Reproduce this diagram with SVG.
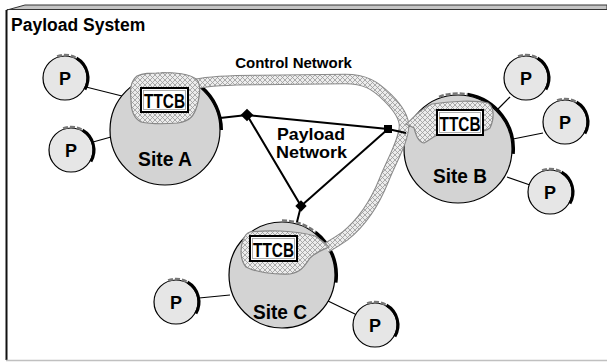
<svg xmlns="http://www.w3.org/2000/svg" width="607" height="362" viewBox="0 0 607 362">
<style>
text{font-family:"Liberation Sans",Arial,sans-serif;font-weight:bold;fill:#000}
.site{fill:#d3d3d3;stroke:#000;stroke-width:1.2}
.p{fill:#e6e6e6;stroke:#000;stroke-width:1.2}
.sh{fill:none;stroke:#000;stroke-width:3}
.gd{fill:none;stroke:#777;stroke-width:2.5;stroke-dasharray:5 2}
.wire{stroke:#000;stroke-width:1.2;fill:none}
.pn{stroke:#000;stroke-width:2;fill:none}
.blob{fill:url(#hatch);stroke:#888;stroke-width:1.2}
.box{fill:#fff;stroke:#000;stroke-width:2}
.boxin{fill:none;stroke:#999;stroke-width:0.8}
.ptxt{font-size:18px;text-anchor:middle}
.stxt{font-size:21px;text-anchor:middle}
.ttcb{font-size:20px;text-anchor:middle}
</style>
<defs>
<pattern id="hatch" patternUnits="userSpaceOnUse" width="5" height="5">
<rect width="5" height="5" fill="#ececec"/>
<path d="M0,0 L5,5 M5,0 L0,5 M-1,4 L1,6 M4,-1 L6,1 M4,6 L6,4 M-1,1 L1,-1" stroke="#999" stroke-width="0.8"/>
</pattern>
</defs>

<g id="frame">
<polygon points="7,10 25,5 607,5 607,9.5 7,9.5" fill="#c4c4c4" stroke="#333" stroke-width="1"/>
<line x1="6.5" y1="10" x2="6.5" y2="360" stroke="#111" stroke-width="2"/>
<line x1="6" y1="360.5" x2="607" y2="360.5" stroke="#c0c0c0" stroke-width="1.5"/>
<text x="11" y="31" font-size="17.5">Payload System</text>
</g>

<g id="p-wires">
<line class="wire" x1="86" y1="87" x2="122" y2="96"/>
<line class="wire" x1="93" y1="142" x2="111" y2="137"/>
<line class="wire" x1="497" y1="110" x2="510" y2="97"/>
<line class="wire" x1="513" y1="139" x2="543" y2="133"/>
<line class="wire" x1="507" y1="177" x2="530" y2="185"/>
<line class="wire" x1="199" y1="298" x2="230" y2="295"/>
<line class="wire" x1="328" y1="301" x2="357" y2="315"/>
</g>

<g id="siteA">
<circle class="site" cx="165" cy="130" r="55"/>
<path class="gd" d="M141.1,78.8 A56.5,56.5 0 0 1 201.3,86.7"/>
<path class="sh" d="M201.3,86.7 A56.5,56.5 0 0 1 221.5,130"/>
</g>
<g id="siteB">
<circle class="site" cx="458" cy="149" r="54"/>
<path class="gd" d="M439,96.8 A55.5,55.5 0 0 1 467.6,94.3"/>
<path class="sh" d="M467.6,94.3 A55.5,55.5 0 0 1 513.3,153.8"/>
</g>
<g id="siteC">
<circle class="site" cx="282" cy="275" r="53"/>
<path class="gd" d="M282,220.5 A54.5,54.5 0 0 1 315.6,232.1"/>
<path class="sh" d="M315.6,232.1 A54.5,54.5 0 0 1 336,282.6"/>
</g>

<g id="control-network">
<path d="M195,84 C210,81 230,80 260,80 L345,79 C365,79 375,85 388,98 C398,108 404,118 404,126 C404,140 392,160 384,180 C376,200 365,220 345,236 C338,241 333,244 326,248" fill="none" stroke="#8a8a8a" stroke-width="10.5"/>
<path d="M195,84 C210,81 230,80 260,80 L345,79 C365,79 375,85 388,98 C398,108 404,118 404,126 C404,140 392,160 384,180 C376,200 365,220 345,236 C338,241 333,244 326,248" fill="none" stroke="url(#hatch)" stroke-width="8.5"/>
<path class="blob" d="M160,73 C175,72 190,74 196,79 C202,84 200,95 197,106 C194,116 190,121 178,123 C165,124 150,124 141,122 C133,118 131,110 131,100 C130,90 130,82 137,76 C143,73 150,73 160,73 Z"/>
<path class="blob" d="M432,104 C450,101 475,100 488,103 C495,108 494,120 490,128 C482,134 465,133 445,133 C435,134 430,140 424,143 C418,142 416,135 414,128 L406,124 C412,120 418,110 432,104 Z"/>
<path class="blob" d="M250,232 C265,230 295,230 315,236 C322,240 326,244 329,247 C322,250 316,252 310,258 C305,265 302,272 290,274 C275,275 255,272 246,267 C240,260 240,248 243,240 C245,235 247,233 250,232 Z"/>
<text x="293.5" y="68" font-size="15" text-anchor="middle">Control Network</text>
</g>

<g id="ttcbA">
<rect class="box" x="141" y="88" width="47" height="24"/>
<rect class="boxin" x="143.5" y="90.5" width="42" height="19"/>
<text class="ttcb" x="164.5" y="108" textLength="41" lengthAdjust="spacingAndGlyphs">TTCB</text>
</g>
<g id="ttcbB">
<rect class="box" x="437" y="110" width="46" height="25"/>
<rect class="boxin" x="439.5" y="112.5" width="41" height="20"/>
<text class="ttcb" x="460" y="130.5" textLength="41" lengthAdjust="spacingAndGlyphs">TTCB</text>
</g>
<g id="ttcbC">
<rect class="box" x="250" y="236" width="47" height="25"/>
<rect class="boxin" x="252.5" y="238.5" width="42" height="20"/>
<text class="ttcb" x="273.5" y="256.5" textLength="41" lengthAdjust="spacingAndGlyphs">TTCB</text>
</g>

<g id="payload-network">
<polyline class="pn" points="220,118 247,115 388,129 406,133"/>
<polyline class="pn" points="247,115 301,206 297,222"/>
<line class="pn" x1="388" y1="129" x2="301" y2="206"/>
<rect x="242.5" y="110.5" width="9" height="9" transform="rotate(45 247 115)" fill="#000"/>
<rect x="384" y="125" width="8" height="8" fill="#000"/>
<rect x="297" y="202" width="8" height="8" transform="rotate(45 301 206)" fill="#000"/>
<text x="311" y="139.5" font-size="16.5" text-anchor="middle" textLength="68" lengthAdjust="spacingAndGlyphs">Payload</text>
<text x="311.5" y="158" font-size="16.5" text-anchor="middle" textLength="71" lengthAdjust="spacingAndGlyphs">Network</text>
</g>

<g id="labels">
<text class="stxt" x="165" y="166" textLength="54" lengthAdjust="spacingAndGlyphs">Site A</text>
<text class="stxt" x="460" y="183" textLength="54" lengthAdjust="spacingAndGlyphs">Site B</text>
<text class="stxt" x="280" y="319" textLength="54" lengthAdjust="spacingAndGlyphs">Site C</text>
</g>

<g id="P1"><circle class="p" cx="65" cy="78" r="22"/><path class="gd" d="M57.1,56.4 A23,23 0 0 1 76.5,58.1"/><path class="sh" d="M76.5,58.1 A23,23 0 0 1 84.9,89.5"/><text class="ptxt" x="65" y="85">P</text></g>
<g id="P2"><circle class="p" cx="71" cy="150" r="22"/><path class="gd" d="M63.1,128.4 A23,23 0 0 1 82.5,130.1"/><path class="sh" d="M82.5,130.1 A23,23 0 0 1 90.9,161.5"/><text class="ptxt" x="71" y="157">P</text></g>
<g id="P3"><circle class="p" cx="526" cy="78" r="22"/><path class="gd" d="M518.1,56.4 A23,23 0 0 1 537.5,58.1"/><path class="sh" d="M537.5,58.1 A23,23 0 0 1 545.9,89.5"/><text class="ptxt" x="526" y="85">P</text></g>
<g id="P4"><circle class="p" cx="565" cy="122" r="22"/><path class="gd" d="M557.1,100.4 A23,23 0 0 1 576.5,102.1"/><path class="sh" d="M576.5,102.1 A23,23 0 0 1 584.9,133.5"/><text class="ptxt" x="565" y="129">P</text></g>
<g id="P5"><circle class="p" cx="550" cy="192" r="22"/><path class="gd" d="M542.1,170.4 A23,23 0 0 1 561.5,172.1"/><path class="sh" d="M561.5,172.1 A23,23 0 0 1 569.9,203.5"/><text class="ptxt" x="550" y="199">P</text></g>
<g id="P6"><circle class="p" cx="176" cy="302" r="22"/><path class="gd" d="M168.1,280.4 A23,23 0 0 1 187.5,282.1"/><path class="sh" d="M187.5,282.1 A23,23 0 0 1 195.9,313.5"/><text class="ptxt" x="176" y="309">P</text></g>
<g id="P7"><circle class="p" cx="375" cy="325" r="22"/><path class="gd" d="M367.1,303.4 A23,23 0 0 1 386.5,305.1"/><path class="sh" d="M386.5,305.1 A23,23 0 0 1 394.9,336.5"/><text class="ptxt" x="375" y="332">P</text></g>
</svg>
